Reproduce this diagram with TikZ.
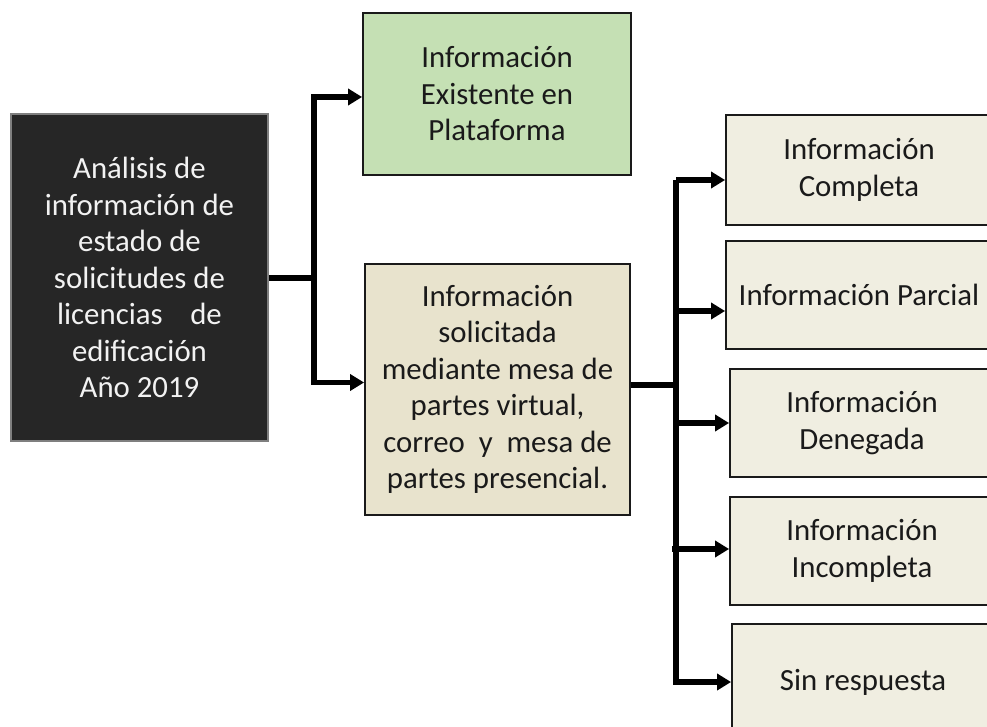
\documentclass[tikz,border=0pt]{standalone}
\usepackage{fontspec}
\setmainfont{Carlito}
\usetikzlibrary{arrows.meta}
\definecolor{darkbox}{HTML}{262626}
\definecolor{darkedge}{HTML}{7F7F7F}
\definecolor{greenbox}{HTML}{C5E0B4}
\definecolor{midbox}{HTML}{E8E3CD}
\definecolor{lightbox}{HTML}{F0EEE1}
\definecolor{ink}{HTML}{1A1A1A}
\begin{document}
\begin{tikzpicture}[x=1pt,y=-1pt,
  box/.style={draw=ink,line width=1.8pt,inner sep=0pt,align=center,text=ink,
    font=\fontsize{30.8}{36.5}\selectfont},
  conn/.style={line width=5.5pt,draw=black},
  arr/.style={conn,-{Triangle[length=14pt,width=16pt]}}]
\clip (0,0) rectangle (987,727);
\fill[white] (0,0) rectangle (987,727);
\node[box,fill=darkbox,draw=darkedge,line width=1.5pt,text={white!95!black},
  minimum width=257pt,minimum height=327pt] (a) at (139.5,277.5)
  {Análisis de\\información de\\estado de\\solicitudes de\\licencias\hspace{0.9em}de\\edificación\\Año 2019};
\node[box,fill=greenbox,minimum width=268pt,minimum height=162pt] (g) at (497,94)
  {Información\\Existente en\\Plataforma};
\node[box,fill=midbox,minimum width=265pt,minimum height=251pt] (m) at (497.5,389.5)
  {Información\\solicitada\\mediante mesa de\\partes virtual,\\correo\hspace{0.45em}y\hspace{0.45em}mesa de\\partes presencial.};
\node[box,fill=lightbox,minimum width=266pt,minimum height=110pt] (r1) at (859,170)
  {Información\\Completa};
\node[box,fill=lightbox,minimum width=266pt,minimum height=108pt] (r2) at (859,295)
  {Información Parcial};
\node[box,fill=lightbox,minimum width=264pt,minimum height=108pt] (r3) at (862,423)
  {Información\\Denegada};
\node[box,fill=lightbox,minimum width=264pt,minimum height=108pt] (r4) at (862,551)
  {Información\\Incompleta};
\node[box,fill=lightbox,minimum width=262pt,minimum height=116pt] (r5) at (863,682)
  {Sin respuesta};
% first junction
\coordinate (s1) at (314,278);
\draw[conn] (a.east |- s1) -- (s1);
\draw[arr] (s1) |- ([yshift=-3pt]g.west);
\draw[arr] (s1) |- ([yshift=7pt]m.west);
% second junction
\coordinate (s2) at (676,385);
\coordinate (s2top) at (676,180);
\coordinate (s2bot) at (676,682);
\draw[conn] (m.east |- s2) -- (s2);
\draw[conn] (s2top) -- (s2bot);
\draw[arr] (s2top) -- ([yshift=-10pt]r1.west);
\draw[arr] (s2top |- 0,311) -- ([yshift=-16pt]r2.west);
\draw[arr] (s2top |- r3.west) -- (r3.west);
\draw[arr] ([xshift=-4pt]s2top |- 0,549) -- ([yshift=2pt]r4.west);
\draw[arr] ([xshift=-2.75pt]s2bot) -- (r5.west);
\end{tikzpicture}
\end{document}
